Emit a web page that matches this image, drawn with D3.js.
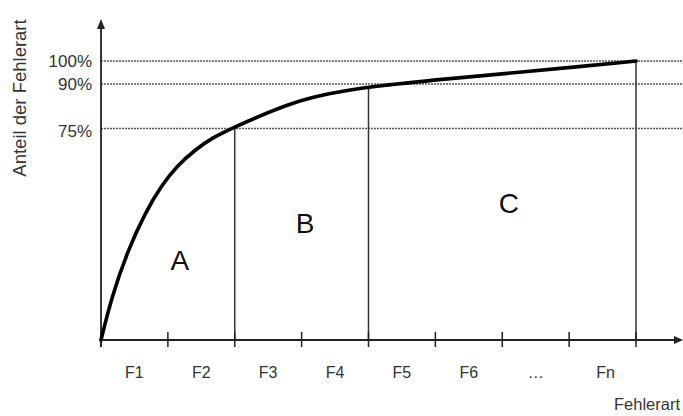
<!DOCTYPE html>
<html>
<head>
<meta charset="utf-8">
<script src="https://cdn.jsdelivr.net/npm/d3@7"></script>
<style>
  html, body { margin: 0; padding: 0; background: #fff; }
  svg { display: block; font-family: "Liberation Sans", Arial, sans-serif; }
</style>
</head>
<body>
<svg id="chart" width="683" height="416"></svg>
<script>
// ---- data ----
const categories = ["F1", "F2", "F3", "F4", "F5", "F6", "…", "Fn"];
const curveX = [0, 0.16, 0.404, 0.658, 0.908, 1.151, 1.405, 1.656, 2.0, 2.35, 2.85, 3.35, 4.0, 5.22, 6.22, 7.16, 8];
const curveShare = [0, 15.35, 31.9, 45.0, 54.96, 62.06, 67.38, 71.63, 75.5, 79.0, 83.6, 86.6, 89.1, 92.4, 95.0, 97.6, 100];
const refLevels = [100, 90, 75];
const refLabels = ["100%", "90%", "75%"];
const boundaryX = [2, 4, 8];
const boundaryShare = [75.5, 89.1, 100];
const regionNames = ["A", "B", "C"];
const yTitle = "Anteil der Fehlerart";
const xTitle = "Fehlerart";

// ---- layout ----
const svg = d3.select("#chart");
const x = d3.scaleLinear().domain([0, categories.length]).range([101, 636]);
const y = d3.scaleLinear().domain([0, 75, 90, 100]).range([340, 128.5, 84, 61]);
const regionPos = [[1.18, 28.4], [3.05, 41.5], [6.1, 48.6]];
const axisColor = "#222";
const textColor = "#333";

// dotted reference lines
svg.selectAll(".ref").data(refLevels).join("line")
  .attr("x1", x(0)).attr("x2", 683)
  .attr("y1", d => y(d)).attr("y2", d => y(d))
  .attr("stroke", "#555").attr("stroke-width", 1.3)
  .attr("stroke-dasharray", "2,1");

// reference labels
svg.selectAll(".reflab").data(refLevels).join("text")
  .attr("x", 92).attr("y", (d, i) => y(d) + (i === 2 ? 2.5 : 0))
  .attr("dy", "0.35em")
  .attr("text-anchor", "end")
  .attr("font-size", 17).attr("fill", textColor)
  .text((d, i) => refLabels[i]);

// boundary verticals
svg.selectAll(".bound").data(boundaryX).join("line")
  .attr("x1", d => x(d)).attr("x2", d => x(d))
  .attr("y1", y(0)).attr("y2", (d, i) => y(boundaryShare[i]))
  .attr("stroke", "#333").attr("stroke-width", 1.5);

// axes
const xAxis = d3.axisBottom(x)
  .tickValues(d3.range(0, categories.length + 1))
  .tickSize(0).tickFormat("");
svg.append("g").attr("transform", `translate(0,${y(0)})`).call(xAxis)
  .call(g => g.select(".domain").remove());

svg.append("line").attr("x1", x(0)).attr("x2", 676).attr("y1", y(0)).attr("y2", y(0))
  .attr("stroke", axisColor).attr("stroke-width", 1.8);
svg.append("path").attr("d", `M683,${y(0)} L674,${y(0) - 4} L674,${y(0) + 4} Z`).attr("fill", axisColor);

svg.append("line").attr("x1", x(0)).attr("x2", x(0)).attr("y1", y(0) + 7).attr("y2", 27)
  .attr("stroke", axisColor).attr("stroke-width", 1.8);
svg.append("path").attr("d", `M${x(0)},19 L${x(0) - 4},29 L${x(0) + 4},29 Z`).attr("fill", axisColor);

// tick marks
svg.selectAll(".tick-mark").data(d3.range(0, categories.length + 1)).join("line")
  .attr("x1", d => x(d)).attr("x2", d => x(d))
  .attr("y1", y(0) - 8).attr("y2", y(0) + 7)
  .attr("stroke", axisColor).attr("stroke-width", 1.5);

// category labels
svg.selectAll(".cat").data(categories).join("text")
  .attr("x", (d, i) => x(i + 0.5) + (i === 7 ? 3 : 0))
  .attr("y", 378)
  .attr("text-anchor", "middle")
  .attr("font-size", 16).attr("fill", textColor)
  .text(d => d);

// curve
const pts = curveX.map((d, i) => [d, curveShare[i]]);
svg.append("path").datum(pts)
  .attr("d", d3.line().x(d => x(d[0])).y(d => y(d[1])).curve(d3.curveBasis))
  .attr("fill", "none").attr("stroke", "#000").attr("stroke-width", 3.6)
  .attr("stroke-linecap", "round");

// region labels
svg.selectAll(".region").data(regionNames).join("text")
  .attr("x", (d, i) => x(regionPos[i][0]))
  .attr("y", (d, i) => y(regionPos[i][1]))
  .attr("dy", "0.35em")
  .attr("text-anchor", "middle")
  .attr("font-size", 28).attr("fill", "#111")
  .text(d => d);

// axis titles
svg.append("text")
  .attr("transform", "translate(26,98) rotate(-90)")
  .attr("text-anchor", "middle")
  .attr("font-size", 18.5).attr("fill", textColor)
  .text(yTitle);

svg.append("text")
  .attr("x", 680).attr("y", 410)
  .attr("text-anchor", "end")
  .attr("font-size", 16.5).attr("fill", textColor)
  .text(xTitle);
</script>
</body>
</html>
